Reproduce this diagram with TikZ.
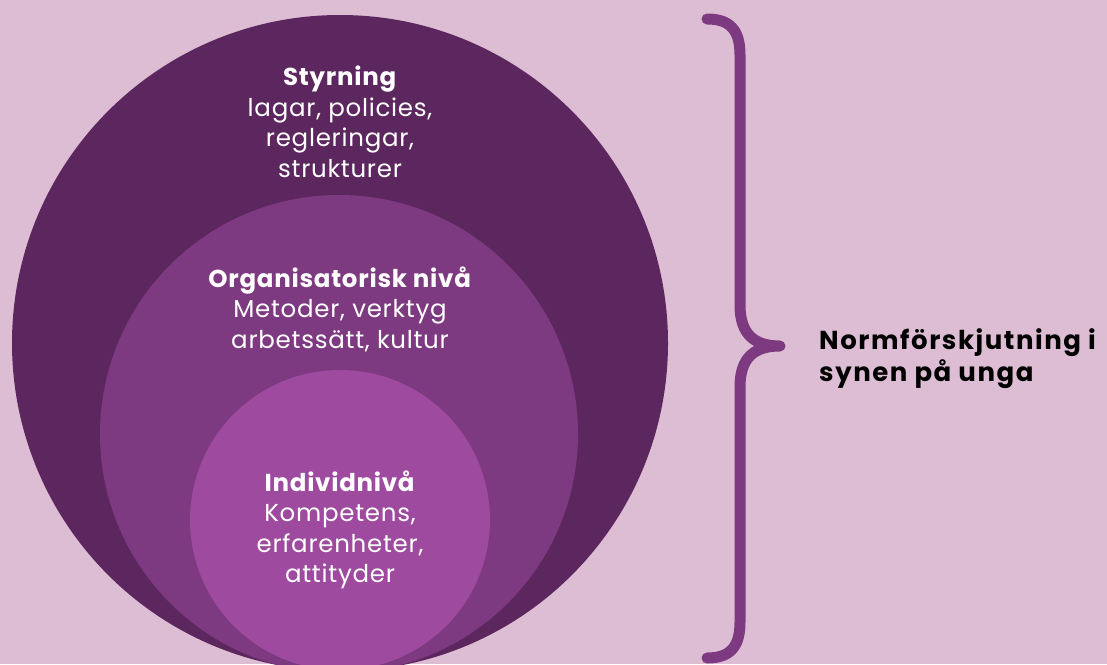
\documentclass[tikz,border=0pt]{standalone}
\usepackage{fontspec}
\setmainfont{Poppins}[LetterSpace=3]
\newfontfamily\sidefont{Poppins}[LetterSpace=6]
\definecolor{bgc}{HTML}{DDBDD4}
\definecolor{outerc}{HTML}{5C265E}
\definecolor{midc}{HTML}{7E3A80}
\definecolor{innerc}{HTML}{9D4A9F}
\definecolor{bracec}{HTML}{7E3A80}
\tikzset{
  ring/.style={circle, inner sep=0pt, draw=none},
  lbl/.style={text=white, align=center, font=\fontsize{24.5}{30.5}\selectfont, inner sep=0pt},
  sidelbl/.style={text=black, align=left, font=\sidefont\fontsize{26}{32}\selectfont\bfseries, inner sep=0pt, anchor=west}
}
\begin{document}
\begin{tikzpicture}[x=1pt,y=-1pt]
\useasboundingbox (0,0) rectangle (1107,664);
\fill[bgc] (0,0) rectangle (1107,664);
\begin{scope}
\clip (0,0) rectangle (1107,664);
\node[ring, fill=outerc, minimum size=656pt] (outer) at (340,343) {};
\node[ring, fill=midc, minimum size=478pt] (mid) at (339,434) {};
\node[ring, fill=innerc, minimum size=300pt] (inner) at (340,520) {};
\end{scope}
\node[lbl] (t1) at (340,122) {\textbf{Styrning}\\lagar, policies,\\regleringar,\\strukturer};
\node[lbl] (t2) at (340,309) {\textbf{Organisatorisk nivå}\\Metoder, verktyg\\arbetssätt, kultur};
\node[lbl] (t3) at (340,530) {\textbf{Individnivå}\\Kompetens,\\erfarenheter,\\attityder};
\coordinate (btop) at (707,19);
\coordinate (btip) at (780,346);
\coordinate (bbot) at (707,658);
\draw[bracec, line width=11pt, line cap=round, line join=round]
  (btop) .. controls (730,19) and (740,30) .. (740,55)
  -- (740,305) .. controls (740,335) and (755,346) .. (btip)
  .. controls (755,346) and (740,357) .. (740,387)
  -- (740,622) .. controls (740,647) and (730,658) .. (bbot);
\node[sidelbl] (side) at (819,359) {Normförskjutning i\\synen på unga};
\end{tikzpicture}
\end{document}
